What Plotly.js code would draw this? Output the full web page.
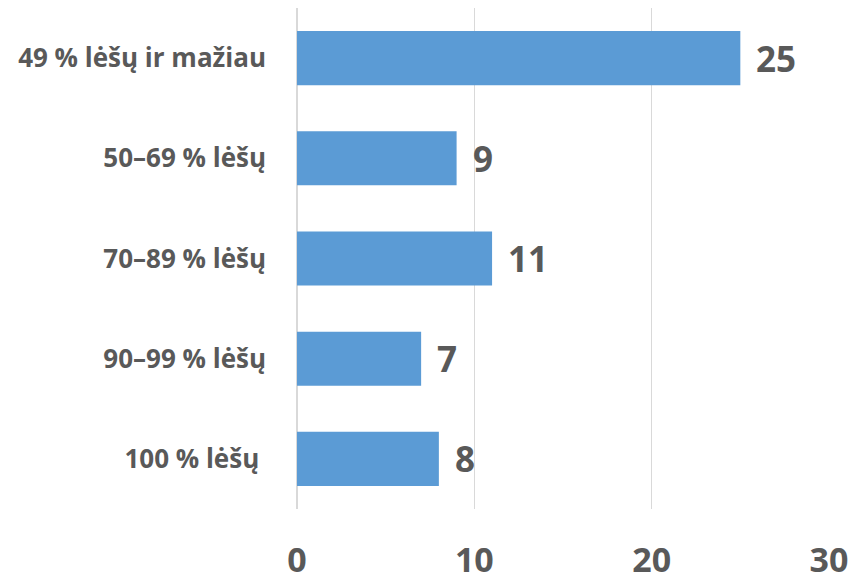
<!DOCTYPE html>
<html><head><meta charset="utf-8">
<script src="https://cdn.plot.ly/plotly-3.0.1.min.js"></script>
<style>body{margin:0;background:#fff}#c{width:854px;height:581px}</style>
</head><body><div id="c"></div>
<script>
const categories = ["49 % lėšų ir mažiau", "50–69 % lėšų", "70–89 % lėšų", "90–99 % lėšų", "100 % lėšų\u00a0"];
const values = [25, 9, 11, 7, 8];
const xTicks = [0, 10, 20, 30];

const FONT = "Open Sans, sans-serif";
const GRAY = "#595959";

const annotations = categories.map((c, i) => ({
  x: values[i], y: c, xref: "x", yref: "y",
  text: String(values[i]), showarrow: false,
  xanchor: "left", yanchor: "middle", xshift: 14,
  font: {family: FONT, size: 35, color: GRAY, weight: 700}
}));

Plotly.newPlot("c", [{
  type: "bar", orientation: "h",
  x: values, y: categories,
  marker: {color: "#5b9bd5"},
  width: 0.54,
  hoverinfo: "none"
}], {
  width: 854, height: 581,
  margin: {l: 297, r: 25, t: 8, b: 72},
  paper_bgcolor: "#fff", plot_bgcolor: "#fff",
  showlegend: false,
  xaxis: {
    range: [0, 30], tickvals: xTicks, ticktext: xTicks.map(String),
    showgrid: true, gridcolor: "#d9d9d9", gridwidth: 1.5,
    zeroline: true, zerolinecolor: "#d9d9d9", zerolinewidth: 1.5,
    showline: false, ticks: "",
    ticklabelstandoff: 28,
    tickfont: {family: FONT, size: 34, color: GRAY, weight: 700}
  },
  yaxis: {
    autorange: "reversed", showgrid: false, zeroline: false, showline: false,
    ticks: "", ticklabelstandoff: 30,
    tickfont: {family: FONT, size: 26, color: GRAY, weight: 700}
  },
  annotations: annotations
}, {displayModeBar: false, staticPlot: true});
</script></body></html>
